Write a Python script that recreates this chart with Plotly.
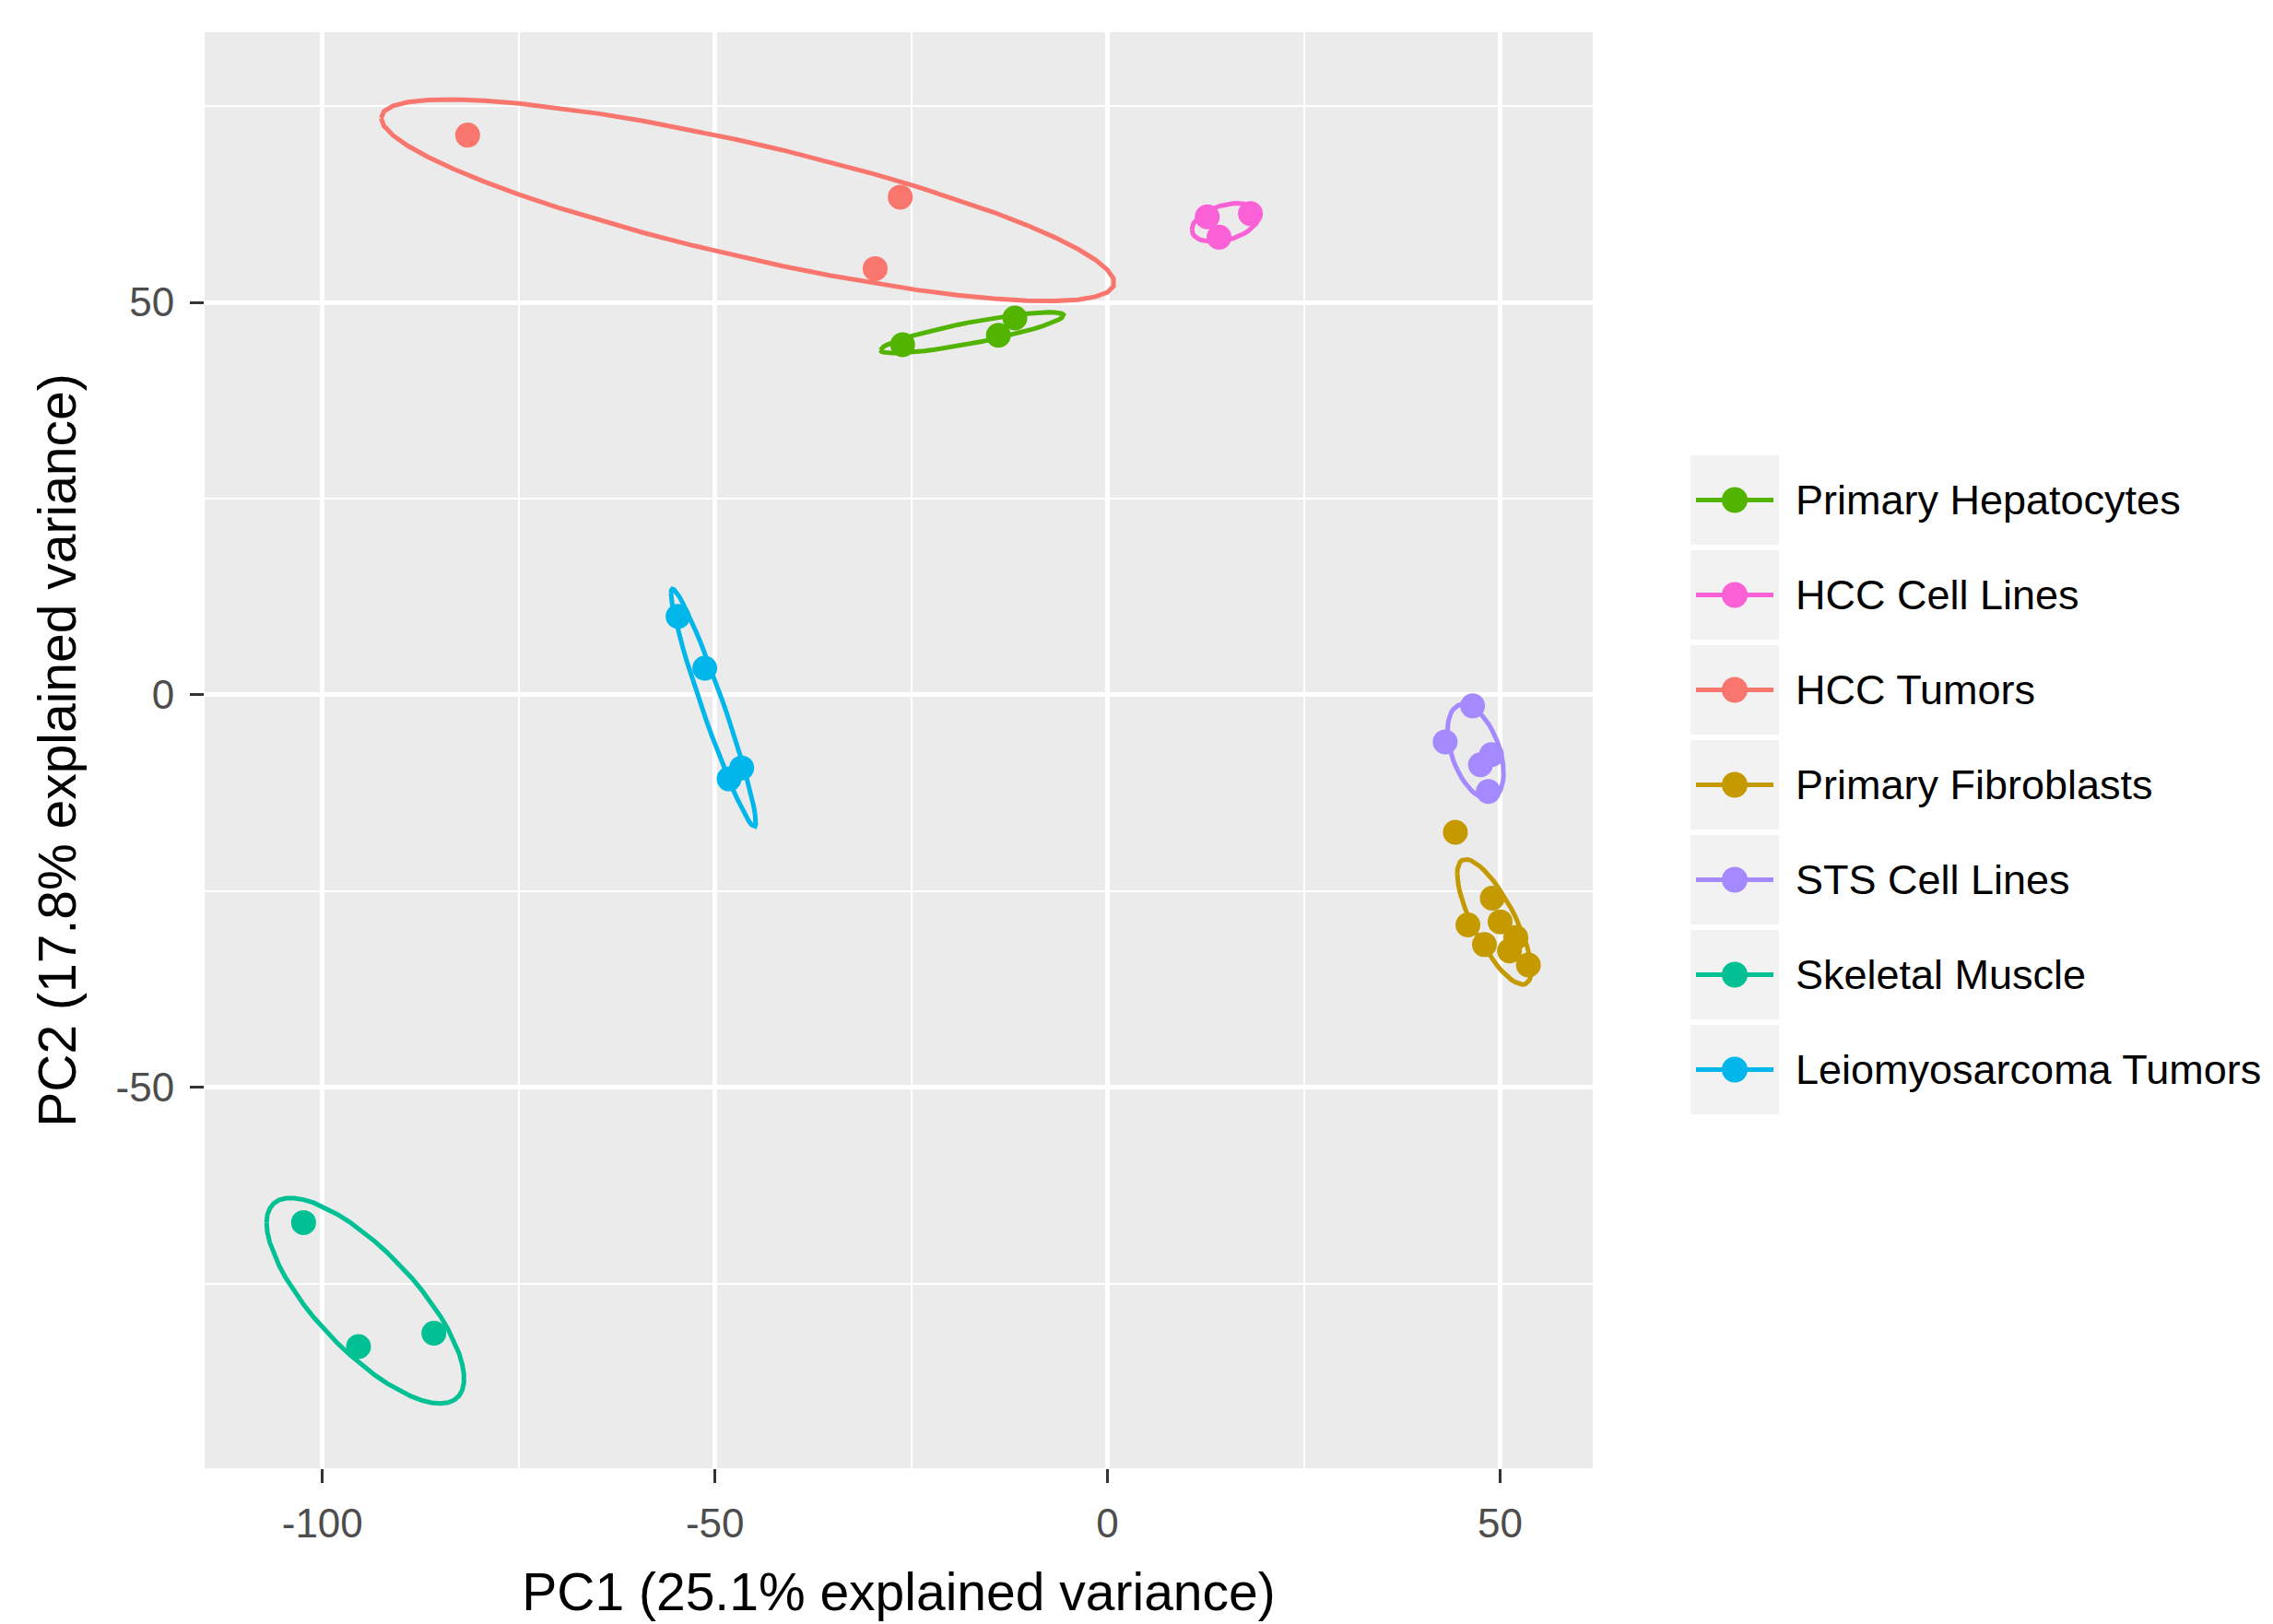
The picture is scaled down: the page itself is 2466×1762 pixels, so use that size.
import numpy as np
import plotly.graph_objects as go

# ---------------- data ----------------
groups = ["Primary Hepatocytes", "HCC Cell Lines", "HCC Tumors", "Primary Fibroblasts",
          "STS Cell Lines", "Skeletal Muscle", "Leiomyosarcoma Tumors"]
colors = ["#53B400", "#FB61D7", "#F8766D", "#C49A00", "#A58AFF", "#00C094", "#00B6EB"]

hep_pc1 = [-26.1, -13.9, -11.8]
hep_pc2 = [44.6, 45.8, 48.0]
hccl_pc1 = [12.7, 14.2, 18.2]
hccl_pc2 = [60.9, 58.3, 61.3]
hcct_pc1 = [-81.5, -26.4, -29.6]
hcct_pc2 = [71.3, 63.4, 54.3]
fib_pc1 = [44.3, 49.0, 45.9, 50.0, 48.0, 51.2, 52.0, 53.6]
fib_pc2 = [-17.5, -25.9, -29.3, -28.9, -31.8, -32.6, -30.9, -34.4]
sts_pc1 = [46.5, 43.0, 47.5, 48.9, 48.5]
sts_pc2 = [-1.4, -6.0, -8.9, -7.6, -12.3]
skm_pc1 = [-102.4, -95.4, -85.8]
skm_pc2 = [-67.2, -83.0, -81.3]
lms_pc1 = [-54.7, -51.3, -46.6, -48.2]
lms_pc2 = [10.0, 3.4, -9.3, -10.7]

pc1 = [hep_pc1, hccl_pc1, hcct_pc1, fib_pc1, sts_pc1, skm_pc1, lms_pc1]
pc2 = [hep_pc2, hccl_pc2, hcct_pc2, fib_pc2, sts_pc2, skm_pc2, lms_pc2]

x_ticks = [-100, -50, 0, 50]
y_ticks = [-50, 0, 50]
x_minor = [-75, -25, 25]
y_minor = [-75, -25, 25, 75]
x_title = "PC1 (25.1% explained variance)"
y_title = "PC2 (17.8% explained variance)"
ellipse_prob = 0.68

# ---------------- figure geometry (div sits 8px into the page) ----------------
OFF = 8
W, H = 2466 - OFF, 1762 - OFF
L, R, T, B = 222 - OFF, 1728 - OFF, 35 - OFF, 1593 - OFF
FONT = "Liberation Sans, Arial, Helvetica, sans-serif"


def px_x(p):
    return (p - OFF - L) / (R - L)


def px_y(p):
    return (B - (p - OFF)) / (B - T)


def ellipse(x, y, prob):
    # same construction as ggbiplot: sqrt(qchisq(prob, 2)) * circle %*% chol(cov) + mu
    ed = np.sqrt(-2.0 * np.log(1.0 - prob))
    theta = np.linspace(-np.pi, np.pi, 50)
    circle = np.column_stack([np.cos(theta), np.sin(theta)])
    xy = np.column_stack([x, y])
    sigma = np.cov(xy, rowvar=False)
    Rm = np.linalg.cholesky(sigma).T
    ell = ed * circle @ Rm + xy.mean(axis=0)
    return ell[:, 0], ell[:, 1]


fig = go.Figure()

for g, c, xs, ys in zip(groups, colors, pc1, pc2):
    fig.add_trace(go.Scatter(x=xs, y=ys, mode="markers", name=g, showlegend=False,
                             marker=dict(color=c, size=27, line=dict(width=0))))

for g, c, xs, ys in zip(groups, colors, pc1, pc2):
    ex, ey = ellipse(np.array(xs), np.array(ys), ellipse_prob)
    fig.add_trace(go.Scatter(x=ex, y=ey, mode="lines", name=g, showlegend=False,
                             line=dict(color=c, width=5)))

# ---------------- custom legend (ggplot style keys) ----------------
shapes = []
annotations = []
key_x0, key_x1 = 1834, 1930
key_top0, key_h, key_step = 494, 97, 103
for i, (g, c) in enumerate(zip(groups, colors)):
    top = key_top0 + i * key_step
    cy = top + key_h / 2
    cx = (key_x0 + key_x1) / 2
    shapes.append(dict(type="rect", xref="paper", yref="paper", layer="below",
                       x0=px_x(key_x0), x1=px_x(key_x1), y0=px_y(top + key_h), y1=px_y(top),
                       fillcolor="#F2F2F2", line=dict(width=0)))
    shapes.append(dict(type="line", xref="paper", yref="paper",
                       x0=px_x(key_x0 + 6), x1=px_x(key_x1 - 6), y0=px_y(cy), y1=px_y(cy),
                       line=dict(color=c, width=5)))
    r = 14
    shapes.append(dict(type="circle", xref="paper", yref="paper",
                       x0=px_x(cx - r), x1=px_x(cx + r), y0=px_y(cy + r), y1=px_y(cy - r),
                       fillcolor=c, line=dict(width=0)))
    annotations.append(dict(xref="paper", yref="paper", x=px_x(1946), y=px_y(cy),
                            xanchor="left", yanchor="middle", text=g, showarrow=False,
                            font=dict(family=FONT, size=45, color="black")))

fig.update_layout(
    width=W, height=H,
    margin=dict(l=L, r=W - R, t=T, b=H - B, autoexpand=False),
    paper_bgcolor="white", plot_bgcolor="#EBEBEB",
    showlegend=False,
    shapes=shapes, annotations=annotations,
    font=dict(family=FONT, color="black"),
)

fig.update_xaxes(
    range=[-115.0, 61.8], tickvals=x_ticks, ticktext=[str(v) for v in x_ticks],
    showgrid=True, gridcolor="white", gridwidth=4.5, zeroline=False, showline=False,
    ticks="outside", ticklen=15, tickwidth=3, tickcolor="#333333",
    tickfont=dict(family=FONT, size=44, color="#4D4D4D"), ticklabelstandoff=6,
    minor=dict(tickvals=x_minor, showgrid=True, gridcolor="white", gridwidth=2.2, ticks=""),
    title=dict(text=x_title, font=dict(family=FONT, size=57, color="black"), standoff=31),
    automargin=False,
)
fig.update_yaxes(
    range=[-98.5, 84.4], tickvals=y_ticks, ticktext=[str(v) for v in y_ticks],
    showgrid=True, gridcolor="white", gridwidth=4.5, zeroline=False, showline=False,
    ticks="outside", ticklen=15, tickwidth=3, tickcolor="#333333",
    tickfont=dict(family=FONT, size=44, color="#4D4D4D"), ticklabelstandoff=8,
    minor=dict(tickvals=y_minor, showgrid=True, gridcolor="white", gridwidth=2.2, ticks=""),
    title=dict(text=y_title, font=dict(family=FONT, size=57, color="black"), standoff=24),
    automargin=False,
)

fig.write_html("out.html")
